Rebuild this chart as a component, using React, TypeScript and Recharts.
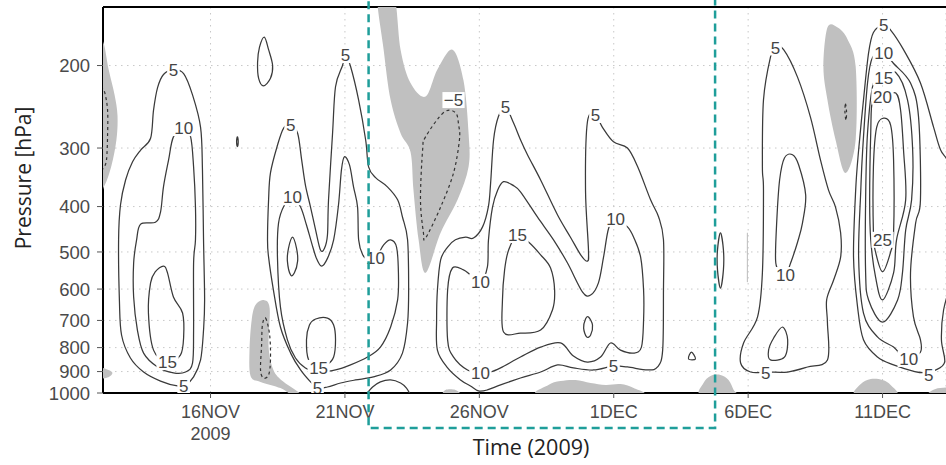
import React from 'react';
import { ComposedChart, Scatter, XAxis, YAxis, CartesianGrid, ReferenceArea, ReferenceLine } from 'recharts';

type Pt = [number, number];

// ---- axes ----
const dayTicks = [16, 21, 26, 31, 36, 41];
const dayTickLabels = ['16NOV', '21NOV', '26NOV', '1DEC', '6DEC', '11DEC'];
const pressureTicks = [200, 300, 400, 500, 600, 700, 800, 900, 1000];
const dayDomain: [number, number] = [12, 43.36];
const pressureDomain: [number, number] = [150, 1000];
const highlightDays: [number, number] = [21.88, 34.77];
const highlightPressure: [number, number] = [140, 1188];

// ---- shaded (negative) regions: [day of Nov 2009, hPa] ----
const shaded: Pt[][] = [
  [[11.8, 176], [12.02, 179], [12.21, 204], [12.43, 231], [12.54, 256], [12.5, 288], [12.32, 326], [12.06, 360], [11.8, 366]],
  [[11.8, 884], [12.13, 890], [12.35, 905], [12.2, 925], [11.8, 929]],
  [[17.97, 633], [18.2, 659], [18.16, 798], [18.34, 893], [18.68, 943], [19.16, 985], [19.42, 1015], [18.98, 1005], [18.6, 976], [17.86, 947], [17.49, 920], [17.45, 810], [17.53, 699], [17.67, 649]],
  [[22.21, 140], [22.44, 185], [22.7, 237], [23.07, 279], [23.44, 306], [23.55, 369], [23.74, 471], [24.0, 554], [24.56, 455], [25.19, 387], [25.6, 329], [25.6, 279], [25.41, 215], [25.0, 185], [24.44, 204], [24.0, 233], [23.44, 218], [23.07, 185], [22.81, 140]],
  [[38.95, 166], [38.8, 201], [38.95, 237], [39.25, 288], [39.62, 339], [40.0, 288], [40.0, 201], [39.7, 176], [39.33, 166]],
  [[28.28, 1010], [28.57, 961], [29.02, 943], [29.58, 938], [30.14, 952], [30.7, 961], [31.25, 957], [31.74, 976], [31.92, 1010]],
  [[24.67, 1010], [24.74, 985], [25.11, 985], [25.3, 1010]],
  [[34.23, 1010], [34.34, 952], [34.6, 920], [34.97, 915], [35.27, 938], [35.46, 985], [35.53, 1010]],
  [[40.0, 1010], [40.19, 957], [40.56, 934], [41.0, 938], [41.3, 961], [41.49, 1010]],
  [[42.71, 1010], [42.97, 980], [43.6, 976], [43.6, 1010]],
];

// ---- -5 contours (dashed) ----
const contourNeg5: Pt[][] = [
  [[18.05, 692], [18.2, 752], [18.23, 850], [18.16, 915], [17.97, 929], [17.86, 893], [17.9, 790], [17.93, 716]],
  [[24.67, 252], [24.0, 284], [23.89, 303], [23.81, 387], [23.92, 455], [24.0, 467], [24.56, 401], [25.04, 339], [25.26, 288], [25.23, 268], [25.11, 252]],
  [[39.62, 241], [39.66, 251], [39.64, 262], [39.6, 251]],
];
const contourNeg5Open: Pt[][] = [
  [[11.91, 222], [12.06, 228], [12.17, 249], [12.17, 282], [12.13, 318], [12.02, 331], [11.91, 334]],
];

// ---- positive contours ----
const contour5: Pt[][] = [
  [[14.62, 204], [15.0, 208], [15.33, 231], [15.63, 271], [15.7, 334], [15.74, 471], [15.78, 633], [15.74, 734], [15.63, 850], [15.37, 924], [15.07, 961], [14.77, 966], [14.14, 943], [13.51, 902], [13.02, 842], [12.69, 752], [12.61, 633], [12.58, 471], [12.65, 397], [12.84, 351], [13.1, 321], [13.4, 303], [13.77, 286], [13.88, 249], [14.03, 223], [14.25, 209]],
  [[18.0, 174], [18.16, 185], [18.31, 200], [18.23, 213], [17.97, 221], [17.79, 213], [17.75, 197], [17.82, 183]],
  [[17.0, 284], [17.03, 291], [17.0, 298], [16.97, 291]],
  [[18.98, 268], [19.24, 279], [19.39, 318], [19.53, 360], [19.72, 401], [19.91, 449], [20.09, 495], [20.24, 491], [20.35, 460], [20.39, 387], [20.54, 279], [20.65, 222], [20.91, 200], [21.02, 190], [21.21, 201], [21.51, 237], [21.77, 288], [21.88, 329], [22.14, 347], [22.58, 363], [22.96, 387], [23.14, 421], [23.33, 471], [23.37, 603], [23.33, 709], [23.14, 822], [22.7, 893], [22.06, 924], [21.39, 938], [20.84, 952], [20.35, 971], [19.98, 976], [19.72, 947], [19.35, 893], [18.98, 822], [18.6, 723], [18.34, 603], [18.16, 513], [18.12, 471], [18.16, 387], [18.23, 339], [18.49, 296], [18.72, 272]],
  [[26.97, 245], [27.27, 265], [27.53, 288], [27.79, 310], [28.28, 351], [28.91, 417], [29.39, 465], [29.77, 507], [30.02, 523], [30.06, 495], [29.95, 369], [30.02, 264], [30.32, 255], [30.58, 271], [30.99, 291], [31.51, 300], [31.89, 329], [32.37, 387], [32.67, 421], [32.85, 471], [32.85, 603], [32.82, 810], [32.63, 880], [32.26, 893], [31.51, 880], [30.99, 876], [30.25, 893], [29.5, 884], [28.91, 871], [28.28, 902], [27.53, 929], [26.79, 961], [26.3, 985], [25.97, 990], [25.67, 966], [25.3, 938], [24.82, 884], [24.44, 810], [24.41, 699], [24.44, 603], [24.56, 520], [24.82, 488], [25.11, 471], [25.49, 465], [25.78, 467], [26.12, 442], [26.34, 399], [26.42, 356], [26.53, 288], [26.71, 257]],
  [[33.89, 818], [34.04, 846], [33.78, 846]],
  [[34.97, 455], [35.08, 495], [35.08, 546], [34.97, 597], [34.86, 546], [34.86, 495]],
  [[37.02, 183], [37.32, 185], [37.84, 212], [38.32, 258], [38.69, 318], [38.99, 369], [39.25, 401], [39.44, 455], [39.44, 513], [39.18, 574], [38.92, 633], [38.95, 709], [38.95, 850], [38.21, 880], [37.47, 902], [36.72, 902], [36.09, 902], [35.72, 863], [35.83, 782], [36.35, 688], [36.53, 554], [36.57, 369], [36.53, 329], [36.57, 237], [36.83, 192]],
  [[41.04, 164], [41.3, 168], [41.78, 185], [42.41, 218], [42.9, 271], [43.16, 303], [43.53, 331], [44.09, 449], [43.6, 568], [43.27, 665], [43.19, 770], [43.31, 859], [42.95, 895], [42.6, 905], [42.2, 900], [41.41, 871], [40.81, 838], [40.29, 770], [40.07, 655], [39.92, 513], [40.0, 369], [40.11, 303], [40.29, 237], [40.48, 188], [40.66, 170]],
];
const contour5Open: Pt[][] = [
  [[21.77, 1010], [22.03, 971], [22.32, 947], [22.7, 938], [23.07, 952], [23.29, 976], [23.44, 1010]],
];
const contour10: Pt[][] = [
  [[15.0, 272], [15.26, 284], [15.37, 329], [15.44, 401], [15.44, 471], [15.37, 528], [15.37, 734], [15.33, 863], [15.07, 902], [14.62, 906], [14.03, 880], [13.51, 822], [13.28, 734], [13.14, 624], [13.14, 528], [13.25, 471], [13.4, 436], [13.95, 432], [14.14, 411], [14.25, 363], [14.44, 318], [14.62, 284]],
  [[19.05, 382], [19.35, 401], [19.57, 438], [19.76, 478], [19.94, 516], [20.13, 536], [20.35, 516], [20.58, 471], [20.76, 397], [20.87, 334], [20.98, 313], [21.17, 326], [21.32, 363], [21.47, 401], [21.51, 471], [21.66, 507], [21.88, 520], [22.14, 516], [22.44, 483], [22.7, 471], [22.92, 488], [22.99, 554], [22.96, 633], [22.7, 723], [22.32, 798], [21.84, 838], [21.21, 871], [20.65, 893], [20.02, 902], [19.53, 884], [19.16, 842], [18.86, 770], [18.6, 655], [18.49, 513], [18.53, 434], [18.75, 397]],
  [[26.04, 906], [26.42, 902], [26.79, 884], [27.53, 838], [28.28, 798], [29.02, 782], [29.5, 834], [30.02, 859], [30.51, 838], [30.88, 782], [31.25, 810], [31.74, 822], [32.03, 798], [32.11, 699], [32.11, 603], [32.0, 513], [31.74, 465], [31.51, 442], [31.07, 425], [30.81, 445], [30.62, 513], [30.43, 582], [30.14, 618], [29.84, 609], [29.28, 528], [28.76, 471], [28.16, 421], [27.53, 372], [27.24, 360], [26.9, 354], [26.68, 369], [26.49, 401], [26.34, 471], [26.3, 538], [26.04, 579], [25.67, 560], [25.41, 546], [25.0, 541], [24.82, 603], [24.82, 770], [25.04, 838], [25.56, 893]],
  [[37.39, 560], [37.58, 528], [37.84, 476], [38.02, 434], [38.14, 378], [37.88, 326], [37.65, 310], [37.35, 315], [37.17, 351], [37.06, 434], [37.02, 520], [37.13, 546]],
  [[37.28, 723], [37.47, 770], [37.35, 838], [36.83, 850], [36.76, 810], [36.95, 763]],
  [[41.04, 188], [41.41, 198], [42.04, 218], [42.34, 258], [42.41, 387], [42.23, 434], [42.04, 554], [42.15, 688], [42.41, 770], [42.41, 818], [41.97, 846], [41.74, 838], [41.41, 798], [40.81, 759], [40.29, 675], [40.11, 513], [40.19, 369], [40.26, 303], [40.44, 218], [40.63, 192]],
];
const contour15: Pt[][] = [
  [[14.4, 859], [14.88, 830], [15.0, 759], [14.96, 675], [14.62, 624], [14.4, 554], [14.25, 536], [13.95, 551], [13.77, 582], [13.69, 675], [13.88, 810]],
  [[19.05, 465], [19.2, 491], [19.24, 523], [19.12, 554], [18.98, 560], [18.86, 523], [18.9, 491]],
  [[20.02, 876], [19.65, 850], [19.57, 770], [19.68, 716], [19.91, 695], [20.35, 692], [20.58, 716], [20.65, 770], [20.58, 838], [20.32, 871]],
  [[27.42, 460], [27.83, 476], [28.28, 507], [28.65, 541], [28.8, 603], [28.72, 665], [28.28, 734], [27.53, 745], [26.9, 741], [26.86, 633], [26.94, 546], [27.09, 495]],
  [[30.06, 688], [30.21, 716], [30.14, 752], [29.99, 759], [29.88, 727], [29.95, 695]],
  [[41.04, 212], [41.49, 207], [41.93, 237], [42.12, 303], [42.08, 387], [41.86, 449], [41.74, 554], [41.56, 633], [41.0, 706], [40.48, 633], [40.37, 554], [40.37, 387], [40.44, 279], [40.66, 218]],
];
const contour20: Pt[][] = [
  [[41.0, 233], [41.49, 229], [41.67, 249], [41.78, 303], [41.86, 387], [41.52, 471], [41.41, 554], [41.0, 633], [40.74, 566], [40.56, 471], [40.52, 387], [40.56, 279], [40.63, 237]],
];
const contour25: Pt[][] = [
  [[41.04, 259], [41.3, 268], [41.41, 318], [41.41, 455], [41.3, 500], [41.0, 551], [40.74, 500], [40.66, 455], [40.66, 329], [40.78, 271]],
];
const faintLines: Pt[][] = [
  [[35.97, 455], [35.97, 580]],
];

// contour labels: [day, hPa, text]
const contourLabels: [number, number, string][] = [
  [14.62, 204, '5'], [15.0, 966, '5'], [15.0, 272, '10'], [14.4, 859, '15'],
  [18.98, 268, '5'], [19.05, 382, '10'], [21.02, 190, '5'], [19.98, 976, '5'], [20.02, 884, '15'], [22.14, 516, '10'],
  [25.04, 237, '\u22125'],
  [26.97, 245, '5'], [30.32, 255, '5'], [30.99, 876, '5'], [26.04, 906, '10'], [26.04, 579, '10'], [31.07, 425, '10'], [27.42, 460, '15'],
  [37.02, 183, '5'], [36.65, 906, '5'], [37.39, 560, '10'],
  [41.04, 164, '5'], [41.04, 188, '10'], [41.04, 212, '15'], [41.0, 233, '20'], [41.0, 471, '25'], [42.72, 915, '5'], [41.97, 846, '10'],
];

// ---- rendering helpers ----
const makeCurve = (closed: boolean) => (context: any) => {
  let pts: number[][] = [];
  return {
    areaStart() {},
    areaEnd() {},
    lineStart() { pts = []; },
    point(x: number, y: number) { pts.push([+x, +y]); },
    lineEnd() {
      const n = pts.length;
      if (!n) return;
      context.moveTo(pts[0][0], pts[0][1]);
      if (n < 3) {
        for (let i = 1; i < n; i++) context.lineTo(pts[i][0], pts[i][1]);
        if (closed) context.closePath();
        return;
      }
      const get = (i: number) => (closed ? pts[(i + n) % n] : pts[Math.max(0, Math.min(n - 1, i))]);
      const segs = closed ? n : n - 1;
      for (let i = 0; i < segs; i++) {
        const p0 = get(i - 1), p1 = get(i), p2 = get(i + 1), p3 = get(i + 2);
        context.bezierCurveTo(
          p1[0] + (p2[0] - p0[0]) / 6, p1[1] + (p2[1] - p0[1]) / 6,
          p2[0] - (p3[0] - p1[0]) / 6, p2[1] - (p3[1] - p1[1]) / 6,
          p2[0], p2[1]
        );
      }
      if (closed) context.closePath();
    },
  };
};
const closedCurve = makeCurve(true);
const openCurve = makeCurve(false);

const toRows = (pts: Pt[]) => pts.map(([d, p]) => ({ d, p }));
const noDot = () => <g />;

const LINE = '#3a3a3a';
const TICK_FONT = 'Liberation Sans, Arial, sans-serif';

const LabelShape = (props: any) => {
  const { cx, cy, payload } = props;
  const text: string = payload.t;
  const w = text.length * 9.6 + 3;
  return (
    <g>
      <rect x={cx - w / 2} y={cy - 8} width={w} height={16} fill="#fff" />
      <text x={cx} y={cy} dy="0.36em" textAnchor="middle" fontSize={17} fill="#444" fontFamily={TICK_FONT}>{text}</text>
    </g>
  );
};

const XTick = (props: any) => {
  const { x, y, payload } = props;
  const idx = dayTicks.indexOf(payload.value);
  return (
    <g>
      <text x={x} y={y} dy="0.71em" textAnchor="middle" fontSize={18} fill="#4a4a4a" fontFamily={TICK_FONT}>{dayTickLabels[idx]}</text>
      {idx === 0 && (
        <text x={x} y={y + 22} dy="0.71em" textAnchor="middle" fontSize={18} fill="#4a4a4a" fontFamily={TICK_FONT}>2009</text>
      )}
    </g>
  );
};

const lineSeries = (list: Pt[][], key: string, curve: any, style: any) =>
  list.map((pts, i) => (
    <Scatter
      key={`${key}${i}`}
      data={toRows(pts)}
      shape={noDot}
      line={style}
      lineJointType={curve}
      legendType="none"
      isAnimationActive={false}
    />
  ));

export default function App() {
  const solid = { stroke: LINE, strokeWidth: 1.25, fill: 'none' };
  const dashed = { stroke: '#333', strokeWidth: 1.2, strokeDasharray: '3 3', fill: 'none' };
  return (
    <div style={{ position: 'absolute', left: 0, top: 0, width: 946, height: 465, background: '#fff', overflow: 'hidden' }}>
      <ComposedChart width={946} height={465} margin={{ top: 7, right: 0, bottom: 0, left: 0 }}>
        <CartesianGrid stroke="#c8c8c8" strokeDasharray="1.5 4.5" />
        <XAxis
          type="number"
          dataKey="d"
          domain={dayDomain}
          ticks={dayTicks}
          allowDataOverflow
          interval={0}
          height={72}
          tickSize={5}
          tickMargin={7}
          axisLine={{ stroke: '#000', strokeWidth: 2 }}
          tickLine={{ stroke: '#555' }}
          tick={<XTick />}
          label={{
            content: () => (
              <text x={531} y={455} textAnchor="middle" fontSize={21.5} fill="#222" fontFamily="Open Sans, sans-serif">Time (2009)</text>
            ),
          }}
        />
        <YAxis
          type="number"
          dataKey="p"
          scale="log"
          domain={pressureDomain}
          reversed
          ticks={pressureTicks}
          allowDataOverflow
          interval={0}
          width={103}
          tickSize={6}
          tickMargin={7}
          axisLine={{ stroke: '#000', strokeWidth: 2 }}
          tickLine={{ stroke: '#555' }}
          tick={{ fill: '#4a4a4a', fontSize: 18.5, fontFamily: TICK_FONT }}
          label={{
            content: () => (
              <text x={31} y={178} transform="rotate(-90 31 178)" textAnchor="middle" fontSize={21} fill="#222" fontFamily="Open Sans, sans-serif">Pressure [hPa]</text>
            ),
          }}
        />
        {lineSeries(shaded, 'sh', closedCurve, { fill: '#c0c0c0', stroke: 'none' })}
        {lineSeries(faintLines, 'fl', openCurve, { stroke: '#bbb', strokeWidth: 1, fill: 'none' })}
        {lineSeries(contourNeg5, 'n5', closedCurve, dashed)}
        {lineSeries(contourNeg5Open, 'n5o', openCurve, dashed)}
        {lineSeries(contour5, 'c5', closedCurve, solid)}
        {lineSeries(contour5Open, 'c5o', openCurve, solid)}
        {lineSeries(contour10, 'c10', closedCurve, solid)}
        {lineSeries(contour15, 'c15', closedCurve, solid)}
        {lineSeries(contour20, 'c20', closedCurve, solid)}
        {lineSeries(contour25, 'c25', closedCurve, solid)}
        <Scatter
          data={contourLabels.map(([d, p, t]) => ({ d, p, t }))}
          shape={LabelShape}
          legendType="none"
          isAnimationActive={false}
        />
        <ReferenceLine y={150} stroke="#000" strokeWidth={2} />
        <ReferenceArea
          x1={highlightDays[0]}
          x2={highlightDays[1]}
          y1={highlightPressure[1]}
          y2={highlightPressure[0]}
          ifOverflow="visible"
          fill="none"
          fillOpacity={0}
          stroke="#1f9e9a"
          strokeWidth={2.5}
          strokeDasharray="8 5"
          zIndex={3000}
        />
      </ComposedChart>
    </div>
  );
}
